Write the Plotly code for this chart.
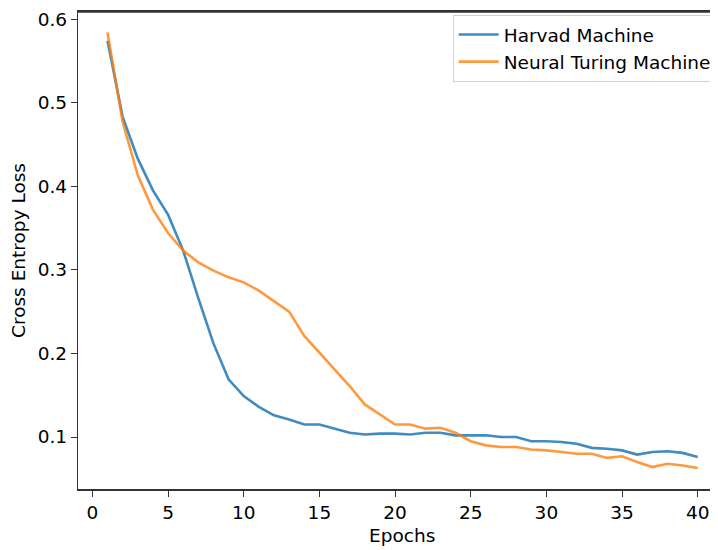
import plotly.graph_objects as go

epochs = list(range(1, 41))
harvad = [0.574, 0.483, 0.433, 0.395, 0.366, 0.323, 0.266, 0.212, 0.169, 0.149,
          0.136, 0.126, 0.121, 0.115, 0.115, 0.110, 0.105, 0.103, 0.104, 0.104,
          0.103, 0.105, 0.105, 0.102, 0.102, 0.102, 0.100, 0.100, 0.095, 0.095,
          0.094, 0.092, 0.087, 0.086, 0.084, 0.079, 0.082, 0.083, 0.081, 0.076]
ntm = [0.584, 0.477, 0.413, 0.372, 0.344, 0.323, 0.309, 0.299, 0.291, 0.285,
       0.275, 0.263, 0.250, 0.221, 0.201, 0.181, 0.161, 0.139, 0.127, 0.115,
       0.115, 0.110, 0.111, 0.105, 0.095, 0.090, 0.088, 0.088, 0.085, 0.084,
       0.082, 0.080, 0.080, 0.075, 0.077, 0.070, 0.064, 0.068, 0.066, 0.063]

x_ticks = [0, 5, 10, 15, 20, 25, 30, 35, 40]
y_ticks = [0.1, 0.2, 0.3, 0.4, 0.5, 0.6]
y_tick_text = ["0.1", "0.2", "0.3", "0.4", "0.5", "0.6"]

FONT = "DejaVu Sans"
FS = 18.5
fig = go.Figure()
fig.add_trace(go.Scatter(x=epochs, y=harvad, mode="lines", name="Harvad Machine",
                         line=dict(color="rgba(31,119,180,0.85)", width=2.6)))
fig.add_trace(go.Scatter(x=epochs, y=ntm, mode="lines", name="Neural Turing Machine",
                         line=dict(color="rgba(255,127,14,0.8)", width=2.6)))

fig.update_layout(
    width=710, height=542,
    margin=dict(l=70, r=0, t=4, b=61),
    paper_bgcolor="white", plot_bgcolor="white",
    font=dict(family=FONT, size=FS, color="#000"),
    showlegend=True,
    legend=dict(x=0.998, y=0.9937, xanchor="right", yanchor="top",
                bgcolor="white", bordercolor="#d0d0d0", borderwidth=1,
                font=dict(family=FONT, size=FS, color="#000"),
                tracegroupgap=0, itemwidth=40),
    xaxis=dict(range=[-0.95, 41.34], tickvals=x_ticks, ticks="outside", ticklen=6,
               tickwidth=1.3, tickcolor="#333", showline=True, linecolor="#333",
               linewidth=1.6, mirror=True, showgrid=False, zeroline=False,
               tickfont=dict(size=FS), automargin=False, ticklabeloverflow="allow"),
    yaxis=dict(range=[0.0378, 0.6084], tickvals=y_ticks, ticktext=y_tick_text,
               ticks="outside", ticklen=6, tickwidth=1.3, tickcolor="#333",
               showline=True, linecolor="#333", linewidth=1.3, mirror=False,
               showgrid=False, zeroline=False, tickfont=dict(size=FS),
               automargin=False, ticklabeloverflow="allow",
               title=dict(text="Cross Entropy Loss", font=dict(size=FS), standoff=8)),
    shapes=[dict(type="line", xref="paper", yref="paper", x0=0, x1=1, y0=1, y1=1,
                 line=dict(color="#333", width=1.6), layer="above")],
    annotations=[dict(text="Epochs", xref="paper", yref="paper", x=0.506, y=-0.0985,
                      xanchor="center", yanchor="middle", showarrow=False,
                      font=dict(family=FONT, size=FS, color="#000"))],
)

fig.write_html("out.html")
